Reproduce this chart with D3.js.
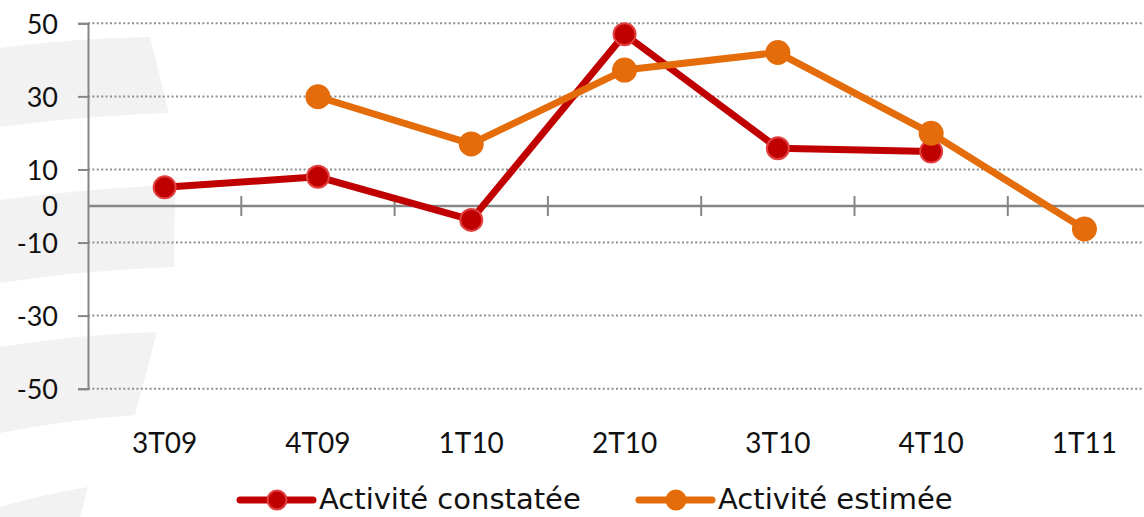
<!DOCTYPE html>
<html>
<head>
<meta charset="utf-8">
<script src="https://cdn.jsdelivr.net/npm/d3@7"></script>
<style>
  body { margin: 0; background: #fff; }
  svg { display: block; font-family: Lato, "Open Sans", sans-serif; }
</style>
</head>
<body>
<div id="chart"></div>
<script>
// data
const categories = ["3T09", "4T09", "1T10", "2T10", "3T10", "4T10", "1T11"];
const constatee = [5.1, 8.0, -3.8, 47.0, 15.8, 14.9, null];
const estimee = [null, 29.9, 17.0, 37.2, 42.0, 19.9, -6.3];
const yTicks = [50, 30, 10, 0, -10, -30, -50];
const seriesNames = ["Activité constatée", "Activité estimée"];

const width = 1144, height = 517;
const red = "#C00000", orange = "#E46C0A";

const svg = d3.select("#chart")
    .append("svg")
    .attr("width", width)
    .attr("height", height);

// faint background swooshes
const swooshes = [
    "M0,48 Q75,38 150,37 L169,113 Q80,116 0,127 Z",
    "M0,200 Q90,188 175,185 L174,267 Q85,270 0,283 Z",
    "M0,347 Q80,334 157,332 L135,415 Q65,420 0,433 Z",
    "M0,507 Q45,494 88,487 L80,517 L0,517 Z"
];
svg.selectAll("path.bg").data(swooshes).join("path")
    .attr("class", "bg")
    .attr("d", d => d)
    .attr("fill", "#f2f2f2");

// scales
const x = d3.scaleBand().domain(categories).range([88, 88 + 7 * 153.3]);
const y = d3.scaleLinear().domain([-50, 50]).range([388.7, 23.3]);
const cx = d => x(d) + x.bandwidth() / 2;

// dotted gridlines
svg.append("g")
    .selectAll("line")
    .data(yTicks.filter(d => d !== 0))
    .join("line")
    .attr("x1", 88).attr("x2", width)
    .attr("y1", d => y(d)).attr("y2", d => y(d))
    .attr("stroke", "#8f8f8f")
    .attr("stroke-width", 2)
    .attr("stroke-dasharray", "2,2.4");

// Y axis
const yAxis = svg.append("g")
    .attr("transform", "translate(88,0)")
    .call(d3.axisLeft(y).tickValues(yTicks).tickSize(10).tickPadding(20).tickFormat(d3.format("d")));
yAxis.select(".domain").attr("stroke", "#868686").attr("stroke-width", 2);
yAxis.selectAll(".tick line").attr("stroke", "#868686").attr("stroke-width", 2);
yAxis.selectAll(".tick text")
    .attr("font-size", 27)
    .attr("font-family", "Lato, sans-serif")
    .attr("fill", "#111")
    .attr("dy", "0.36em")
    .text(d => d < 0 ? "-" + Math.abs(d) : d);
yAxis.selectAll(".tick").filter(d => d === 0).select("line").remove();

// X axis at zero
const xAxis = svg.append("g").attr("transform", "translate(0," + y(0) + ")");
xAxis.append("line")
    .attr("x1", 88).attr("x2", width)
    .attr("stroke", "#868686").attr("stroke-width", 2.5);
xAxis.selectAll("line.tk")
    .data(categories.slice(1))
    .join("line")
    .attr("class", "tk")
    .attr("x1", d => x(d)).attr("x2", d => x(d))
    .attr("y1", -10).attr("y2", 10)
    .attr("stroke", "#868686").attr("stroke-width", 2);

// category labels
svg.append("g")
    .selectAll("text")
    .data(categories)
    .join("text")
    .attr("x", d => cx(d))
    .attr("y", 453)
    .attr("text-anchor", "middle")
    .attr("font-size", 28)
    .attr("fill", "#111")
    .text(d => d);

// lines and markers
const line = d3.line()
    .defined(d => d[1] !== null)
    .x(d => cx(d[0]))
    .y(d => y(d[1]));

function drawSeries(values, color, edge, r) {
    const pts = categories.map((c, i) => [c, values[i]]);
    svg.append("path")
        .datum(pts)
        .attr("d", line)
        .attr("fill", "none")
        .attr("stroke", color)
        .attr("stroke-width", 7)
        .attr("stroke-linejoin", "round");
    svg.append("g")
        .selectAll("circle")
        .data(pts.filter(d => d[1] !== null))
        .join("circle")
        .attr("cx", d => cx(d[0]))
        .attr("cy", d => y(d[1]))
        .attr("r", r)
        .attr("fill", color)
        .attr("stroke", edge)
        .attr("stroke-width", 2);
}
drawSeries(constatee, red, "#e2403f", 11);
drawSeries(estimee, orange, orange, 11.5);

// legend
const legend = [
    { name: seriesNames[0], color: red, edge: "#e2403f", x: 240 },
    { name: seriesNames[1], color: orange, edge: orange, x: 639 }
];
const lg = svg.append("g").selectAll("g").data(legend).join("g")
    .attr("transform", d => "translate(" + d.x + ",500)");
lg.append("line")
    .attr("x1", 0).attr("x2", 73)
    .attr("stroke", d => d.color)
    .attr("stroke-width", 7)
    .attr("stroke-linecap", "round");
lg.append("circle")
    .attr("cx", 37).attr("r", 9.5)
    .attr("fill", d => d.color)
    .attr("stroke", d => d.edge)
    .attr("stroke-width", 2);
lg.append("text")
    .attr("x", 79)
    .attr("y", 9)
    .attr("font-family", "'DejaVu Sans', sans-serif")
    .attr("font-size", 29)
    .attr("fill", "#111")
    .text(d => d.name);
</script>
</body>
</html>
